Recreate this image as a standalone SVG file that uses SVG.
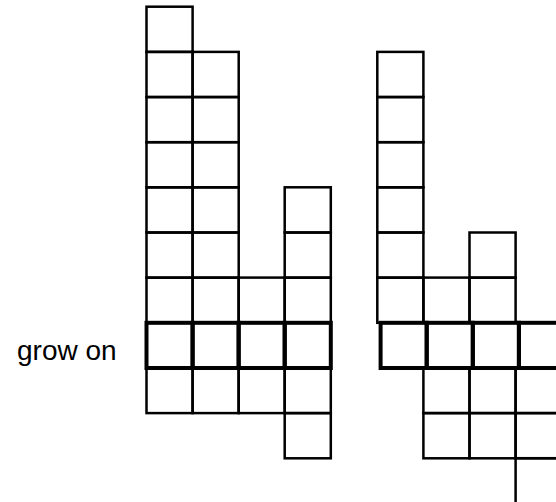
<svg xmlns="http://www.w3.org/2000/svg" width="556" height="502" viewBox="0 0 556 502">
<style>
.c{fill:none;stroke:#000;stroke-width:2.5}
.t{fill:none;stroke:#000;stroke-width:4}
.lbl{font-family:"Liberation Sans",Arial,sans-serif;font-size:28px;fill:#000}
</style>
<rect width="556" height="502" fill="#fff"/>
<g id="label"><text class="lbl" x="17" y="359.5">grow on</text></g>
<g id="left-figure">
<rect class="c" x="146.5" y="6.7" width="46.1" height="45.2"/>
<rect class="c" x="146.5" y="51.9" width="46.1" height="45.2"/>
<rect class="c" x="146.5" y="97" width="46.1" height="45.2"/>
<rect class="c" x="146.5" y="142.2" width="46.1" height="45.2"/>
<rect class="c" x="146.5" y="187.3" width="46.1" height="45.2"/>
<rect class="c" x="146.5" y="232.5" width="46.1" height="45.2"/>
<rect class="c" x="146.5" y="277.6" width="46.1" height="45.2"/>
<rect class="c" x="146.5" y="367.9" width="46.1" height="45.2"/>
<rect class="c" x="192.6" y="51.9" width="46.1" height="45.2"/>
<rect class="c" x="192.6" y="97" width="46.1" height="45.2"/>
<rect class="c" x="192.6" y="142.2" width="46.1" height="45.2"/>
<rect class="c" x="192.6" y="187.3" width="46.1" height="45.2"/>
<rect class="c" x="192.6" y="232.5" width="46.1" height="45.2"/>
<rect class="c" x="192.6" y="277.6" width="46.1" height="45.2"/>
<rect class="c" x="192.6" y="367.9" width="46.1" height="45.2"/>
<rect class="c" x="238.6" y="277.6" width="46.1" height="45.2"/>
<rect class="c" x="238.6" y="367.9" width="46.1" height="45.2"/>
<rect class="c" x="284.7" y="187.3" width="46.1" height="45.2"/>
<rect class="c" x="284.7" y="232.5" width="46.1" height="45.2"/>
<rect class="c" x="284.7" y="277.6" width="46.1" height="45.2"/>
<rect class="c" x="284.7" y="367.9" width="46.1" height="45.2"/>
<rect class="c" x="284.7" y="413.1" width="46.1" height="45.2"/>
<rect class="t" x="146.5" y="322.8" width="46.1" height="45.2"/>
<rect class="t" x="192.6" y="322.8" width="46.1" height="45.2"/>
<rect class="t" x="238.6" y="322.8" width="46.1" height="45.2"/>
<rect class="t" x="284.7" y="322.8" width="46.1" height="45.2"/>
</g>
<g id="right-figure">
<rect class="c" x="377.3" y="51.9" width="46.1" height="45.2"/>
<rect class="c" x="377.3" y="97" width="46.1" height="45.2"/>
<rect class="c" x="377.3" y="142.2" width="46.1" height="45.2"/>
<rect class="c" x="377.3" y="187.3" width="46.1" height="45.2"/>
<rect class="c" x="377.3" y="232.5" width="46.1" height="45.2"/>
<rect class="c" x="377.3" y="277.6" width="46.1" height="45.2"/>
<rect class="c" x="423.4" y="277.6" width="46.1" height="45.2"/>
<rect class="c" x="469.5" y="232.5" width="46.1" height="45.2"/>
<rect class="c" x="469.5" y="277.6" width="46.1" height="45.2"/>
<rect class="c" x="423.4" y="367.9" width="46.1" height="45.2"/>
<rect class="c" x="423.4" y="413.1" width="46.1" height="45.2"/>
<rect class="c" x="469.5" y="367.9" width="46.1" height="45.2"/>
<rect class="c" x="469.5" y="413.1" width="46.1" height="45.2"/>
<rect class="c" x="515.6" y="367.9" width="46.1" height="45.2"/>
<rect class="c" x="515.6" y="413.1" width="46.1" height="45.2"/>
<rect class="c" x="515.6" y="458.2" width="46.1" height="45.2"/>
<rect class="t" x="380.6" y="322.8" width="46.1" height="45.2"/>
<rect class="t" x="426.7" y="322.8" width="46.1" height="45.2"/>
<rect class="t" x="472.8" y="322.8" width="46.1" height="45.2"/>
<rect class="t" x="518.9" y="322.8" width="46.1" height="45.2"/>
</g>
</svg>
